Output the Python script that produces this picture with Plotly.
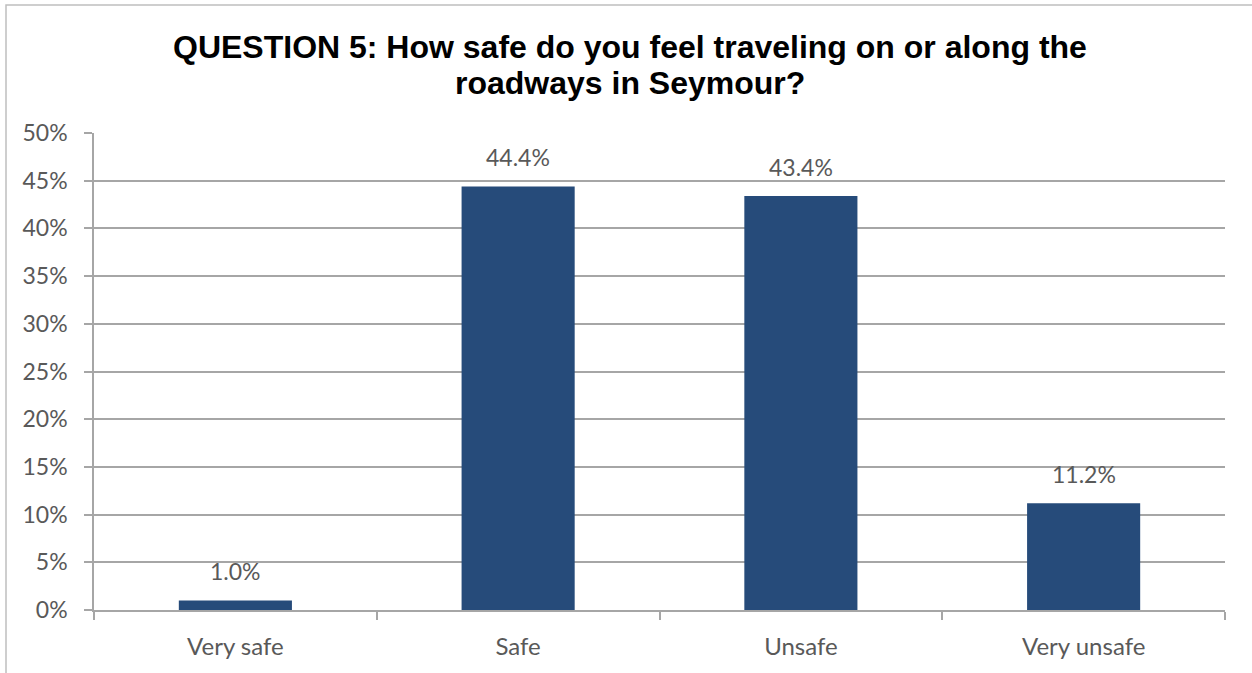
import plotly.graph_objects as go

# Survey responses, Question 5
categories = ["Very safe", "Safe", "Unsafe", "Very unsafe"]
shares = [1.0, 44.4, 43.4, 11.2]          # percent of respondents
y_ticks = [0, 5, 10, 15, 20, 25, 30, 35, 40, 45, 50]
title_lines = [
    "QUESTION 5: How safe do you feel traveling on or along the",
    "roadways in Seymour?",
]

W, H = 1252, 673
M = dict(l=94, r=27, t=133, b=63)
BAR = "#264B7A"
GRID = "#A6A6A6"
TXT = "#595959"
FONT = "Lato"

fig = go.Figure(
    go.Bar(
        x=categories,
        y=shares,
        marker=dict(color=BAR, line=dict(width=0)),
        width=0.4,
        hoverinfo="skip",
    )
)

# value labels above each bar
for cat, v in zip(categories, shares):
    fig.add_annotation(
        x=cat, y=v, text=f"{v:.1f}%", showarrow=False,
        yanchor="bottom", yshift=13,
        font=dict(family=FONT, size=23, color=TXT),
    )

pw = W - M["l"] - M["r"]
ph = H - M["t"] - M["b"]


def py(px_from_top):
    """Convert a pixel row (from the top of the page) to paper y."""
    return (H - M["b"] - px_from_top) / ph


# two-line bold title, tighter line spacing than a <br> title
for line, y_mid in zip(title_lines, [47, 83]):
    fig.add_annotation(
        xref="paper", yref="paper",
        x=(630 - M["l"]) / pw, y=py(y_mid),
        xanchor="center", yanchor="middle",
        text=f"<b>{line}</b>", showarrow=False,
        font=dict(family="Liberation Sans", size=32, color="black"),
    )

# outer chart frame
fig.add_shape(
    type="rect", xref="paper", yref="paper",
    x0=(6 - M["l"]) / pw, x1=(W + 10 - M["l"]) / pw,
    y0=py(H + 10), y1=py(5),
    line=dict(color="#BFBFBF", width=1.5), fillcolor="rgba(0,0,0,0)",
    layer="below",
)

fig.update_layout(
    width=W, height=H,
    margin=M,
    paper_bgcolor="white", plot_bgcolor="white",
    showlegend=False,
    xaxis=dict(
        type="category",
        showline=True, linecolor=GRID, linewidth=1.5,
        ticks="outside", tickson="boundaries", ticklen=8, tickcolor=GRID, tickwidth=1.5,
        tickfont=dict(family=FONT, size=24, color=TXT),
        ticklabelstandoff=14,
        showgrid=False,
    ),
    yaxis=dict(
        range=[0, 50],
        tickvals=y_ticks,
        ticktext=[f"{t}%" for t in y_ticks],
        showline=True, linecolor=GRID, linewidth=1.5,
        ticks="outside", ticklen=8, tickcolor=GRID, tickwidth=1.5,
        showgrid=True, gridcolor=GRID, gridwidth=1.5,
        tickfont=dict(family=FONT, size=23, color=TXT),
        ticklabelstandoff=12,
        zeroline=False,
    ),
    bargap=0.6,
)

fig.write_html("out.html")
